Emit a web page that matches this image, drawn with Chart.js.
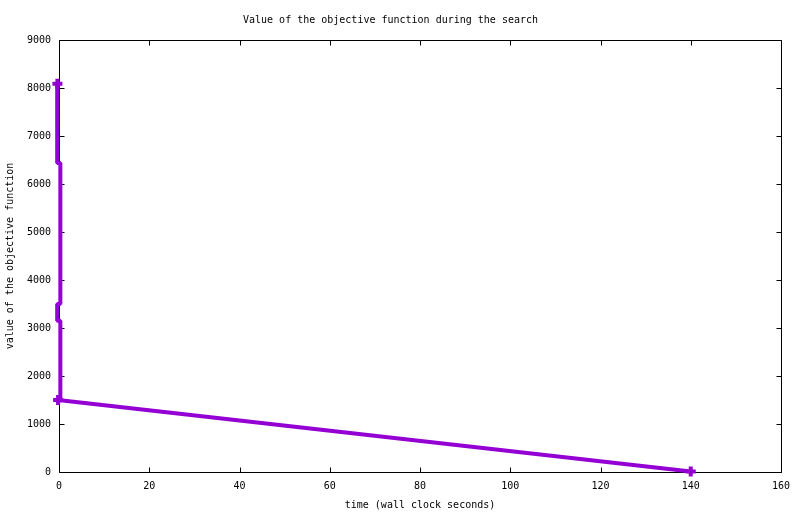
<!DOCTYPE html>
<html>
<head>
<meta charset="utf-8">
<script src="https://cdn.jsdelivr.net/npm/chart.js@4/dist/chart.umd.min.js"></script>
<style>
html,body{margin:0;padding:0;background:#fff;}
#wrap{width:800px;height:514px;position:relative;}
</style>
</head>
<body>
<div id="wrap"><canvas id="c" width="800" height="514"></canvas></div>
<script>
// ---- data ----
const chartTitle = 'Value of the objective function during the search';
const xTitle = 'time (wall clock seconds)';
const yTitle = 'value of the objective function';
const times  = [-0.35, -0.4, 0.3, 0.3, -0.4, -0.4, 0.3, 0.3, -0.2, 140];
const values = [8090, 6440, 6440, 3500, 3500, 3150, 3150, 1480, 1500, 10];
const markerTimes  = [140, -0.2, -0.35];
const markerValues = [10, 1500, 8090];
const xTicks = [0, 20, 40, 60, 80, 100, 120, 140, 160];
const yTicks = [0, 1000, 2000, 3000, 4000, 5000, 6000, 7000, 8000, 9000];

const FONT = "'DejaVu Sans Mono', 'Liberation Mono', monospace";
const PURPLE = '#9400d3';

const frame = {
  id: 'frame',
  beforeDatasetsDraw(chart) {
    const {ctx, chartArea: a, scales: {x, y}} = chart;
    ctx.save();
    ctx.strokeStyle = '#000';
    ctx.lineWidth = 1;
    ctx.beginPath();
    const L = Math.round(a.left) + 0.5, R = Math.round(a.right) + 0.5;
    const T = Math.round(a.top) + 0.5, B = Math.round(a.bottom) + 0.5;
    ctx.rect(L, T, R - L, B - T);
    const tl = 5;
    xTicks.forEach(v => {
      const px = Math.round(x.getPixelForValue(v)) + 0.5;
      ctx.moveTo(px, B); ctx.lineTo(px, B - tl);
      ctx.moveTo(px, T); ctx.lineTo(px, T + tl);
    });
    yTicks.forEach(v => {
      const py = Math.round(y.getPixelForValue(v)) + 0.5;
      ctx.moveTo(L, py); ctx.lineTo(L + tl, py);
      ctx.moveTo(R, py); ctx.lineTo(R - tl, py);
    });
    ctx.stroke();
    ctx.restore();
  }
};

new Chart(document.getElementById('c'), {
  type: 'scatter',
  data: {
    datasets: [
      {
        type: 'line',
        data: times.map((t, i) => ({x: t, y: values[i]})),
        borderColor: PURPLE,
        borderWidth: 4,
        pointRadius: 0,
        fill: false,
        tension: 0,
        clip: false,
        borderCapStyle: 'butt',
        borderJoinStyle: 'bevel'
      },
      {
        type: 'scatter',
        data: markerTimes.map((t, i) => ({x: t, y: markerValues[i]})),
        pointStyle: 'cross',
        pointRadius: 5,
        borderColor: PURPLE,
        backgroundColor: PURPLE,
        pointBorderWidth: 4,
        clip: false
      }
    ]
  },
  options: {
    responsive: false,
    animation: false,
    devicePixelRatio: 1,
    layout: {padding: {left: 0, right: 19, top: 0, bottom: 0}},
    plugins: {
      legend: {display: false},
      tooltip: {enabled: false},
      title: {
        display: true,
        text: chartTitle,
        color: '#000',
        font: {family: FONT, size: 10, weight: 'normal', lineHeight: 1.2},
        padding: {top: 14, bottom: 14}
      }
    },
    scales: {
      x: {
        type: 'linear',
        min: 0, max: 160,
        afterBuildTicks(s) { s.ticks = xTicks.map(v => ({value: v})); },
        afterFit(s) { s.height = 42; },
        grid: {display: false, drawTicks: false},
        border: {display: false},
        ticks: {color: '#000', padding: 8, maxRotation: 0, font: {family: FONT, size: 10}},
        title: {display: true, text: xTitle, color: '#000',
                font: {family: FONT, size: 10, lineHeight: 1.2}, padding: {top: 0, bottom: 3}}
      },
      y: {
        type: 'linear',
        min: 0, max: 9000,
        afterBuildTicks(s) { s.ticks = yTicks.map(v => ({value: v})); },
        afterFit(s) { s.width = 59; },
        grid: {display: false, drawTicks: false},
        border: {display: false},
        ticks: {color: '#000', padding: 8, font: {family: FONT, size: 10},
                callback: v => String(v)},
        title: {display: true, text: yTitle, color: '#000',
                font: {family: FONT, size: 10, lineHeight: 1.2}, padding: {top: 4, bottom: 4}}
      }
    }
  },
  plugins: [frame]
});
</script>
</body>
</html>
